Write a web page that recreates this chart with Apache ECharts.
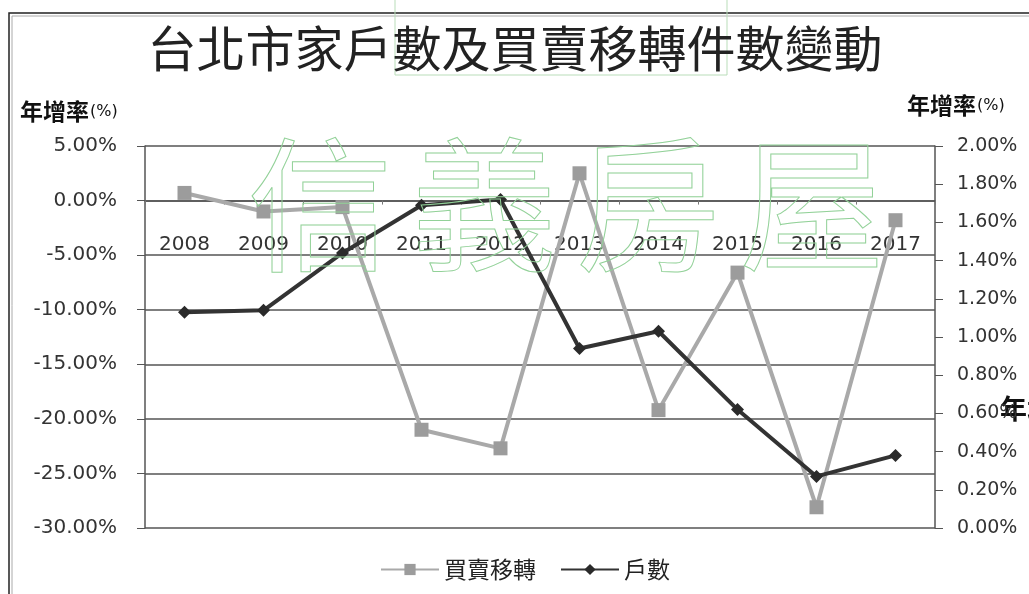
<!DOCTYPE html>
<html>
<head>
<meta charset="utf-8">
<script src="https://cdn.jsdelivr.net/npm/echarts@6/dist/echarts.min.js"></script>
<style>
  html, body { margin: 0; padding: 0; background: #fff; }
  #chart { width: 1029px; height: 594px; }
</style>
</head>
<body>
<div id="chart"></div>
<script>
// 年份
const years = ['2008', '2009', '2010', '2011', '2012', '2013', '2014', '2015', '2016', '2017'];
// 買賣移轉件數 年增率 (%)，左軸
const transferGrowth = [0.7, -1.0, -0.6, -21.0, -22.7, 2.5, -19.2, -6.6, -28.1, -1.8];
// 家戶數 年增率 (%)，右軸
const householdGrowth = [1.13, 1.14, 1.44, 1.69, 1.72, 0.94, 1.03, 0.62, 0.27, 0.38];
// 軸範圍 [min, max, interval]
const leftAxisRange = [-30, 5, 5];
const rightAxisRange = [0, 2, 0.2];
// 文字
const titleText = '台北市家戶數及買賣移轉件數變動';
const axisTitle = '年增率';
const seriesNames = ['買賣移轉', '戶數'];
const watermarkChars = ['信', '義', '房', '屋'];

const pct = v => v.toFixed(2) + '%';
const labelFont = 'DejaVu Sans';
const cjkFont = '"Noto Sans CJK TC", sans-serif';

// 繪圖區
const W = 1029, H = 594;
const gridBox = { left: 145, right: 94, top: 146, bottom: 66 };
const plotHeight = H - gridBox.top - gridBox.bottom;
// 類別軸放在左軸 0 的位置（由底邊往上移）
const zeroShift = (0 - leftAxisRange[0]) / (leftAxisRange[1] - leftAxisRange[0]) * plotHeight;

const chart = echarts.init(document.getElementById('chart'), null, { renderer: 'canvas' });

const watermark = watermarkChars.map((ch, i) => ({
  type: 'text',
  x: 320 + i * 164,
  y: 205,
  z: 100,
  silent: true,
  style: {
    text: ch,
    font: '145px ' + cjkFont,
    fill: 'rgba(0,0,0,0)',
    stroke: '#92d198',
    lineWidth: 1,
    align: 'center',
    verticalAlign: 'middle'
  }
}));

// 軸標題：「年增率」加上較小的「(%)」
const axisTitleText = (x, y) => ([
  { type: 'text', silent: true, x: x, y: y,
    style: { text: axisTitle, verticalAlign: 'middle', font: 'bold 23px ' + cjkFont, fill: '#111' } },
  { type: 'text', silent: true, x: x + 70, y: y + 1,
    style: { text: '(%)', verticalAlign: 'middle', font: '16px ' + labelFont, fill: '#111' } }
]);

chart.setOption({
  backgroundColor: '#fff',
  animation: false,
  title: {
    text: titleText,
    left: 510,
    textAlign: 'center',
    top: 19,
    textStyle: { fontFamily: cjkFont, fontSize: 49, fontWeight: 'normal', color: '#222' }
  },
  legend: {
    left: 375,
    top: 553,
    itemWidth: 58,
    itemHeight: 14,
    itemGap: 24,
    data: seriesNames,
    textStyle: { fontFamily: cjkFont, fontSize: 23, color: '#222' }
  },
  grid: gridBox,
  xAxis: {
    type: 'category',
    data: years,
    boundaryGap: true,
    position: 'bottom',
    offset: -zeroShift,
    axisLine: { onZero: false, lineStyle: { color: '#555', width: 1.5 } },
    axisTick: { show: true, length: 4, lineStyle: { color: '#777' } },
    axisLabel: { margin: 34, fontFamily: labelFont, fontSize: 20, color: '#333' },
    splitLine: { show: false }
  },
  yAxis: [
    {
      type: 'value',
      min: leftAxisRange[0],
      max: leftAxisRange[1],
      interval: leftAxisRange[2],
      axisLine: { show: true, lineStyle: { color: '#555', width: 1.5 } },
      axisTick: { show: true, length: 8, lineStyle: { color: '#555' } },
      axisLabel: { margin: 28, fontFamily: labelFont, fontSize: 20, color: '#333', formatter: pct },
      splitLine: { show: true, lineStyle: { color: '#555', width: 1.5 } }
    },
    {
      type: 'value',
      min: rightAxisRange[0],
      max: rightAxisRange[1],
      interval: rightAxisRange[2],
      position: 'right',
      axisLine: { show: true, lineStyle: { color: '#555', width: 1.5 } },
      axisTick: { show: true, length: 8, lineStyle: { color: '#555' } },
      axisLabel: { margin: 22, fontFamily: labelFont, fontSize: 19, color: '#333', formatter: pct },
      splitLine: { show: false }
    }
  ],
  series: [
    {
      name: seriesNames[0],
      type: 'line',
      yAxisIndex: 0,
      data: transferGrowth,
      symbol: 'rect',
      symbolSize: 14,
      z: 2,
      lineStyle: { color: '#a9a9a9', width: 4 },
      itemStyle: { color: '#9c9c9c' }
    },
    {
      name: seriesNames[1],
      type: 'line',
      yAxisIndex: 1,
      data: householdGrowth,
      symbol: 'diamond',
      symbolSize: 13,
      z: 3,
      lineStyle: { color: '#333', width: 4 },
      itemStyle: { color: '#2a2a2a' }
    }
  ],
  graphic: [
    // 外框
    { type: 'rect', silent: true, shape: { x: 9, y: 13, width: 1040, height: 600 },
      style: { fill: 'none', stroke: '#222', lineWidth: 1.5 } },
    { type: 'rect', silent: true, shape: { x: 12, y: 16, width: 1040, height: 600 },
      style: { fill: 'none', stroke: '#aaa', lineWidth: 1 } },
    // 標題框
    { type: 'rect', silent: true, shape: { x: 395, y: -1, width: 332, height: 76 },
      style: { fill: 'none', stroke: '#b9ddb9', lineWidth: 1 } },
    { type: 'text', silent: true, x: 1000, y: 409,
      style: { text: axisTitle, verticalAlign: 'middle',
        font: 'bold 27px ' + cjkFont, fill: '#111' } }
  ].concat(axisTitleText(20, 111), axisTitleText(907, 105), watermark)
});
</script>
</body>
</html>
